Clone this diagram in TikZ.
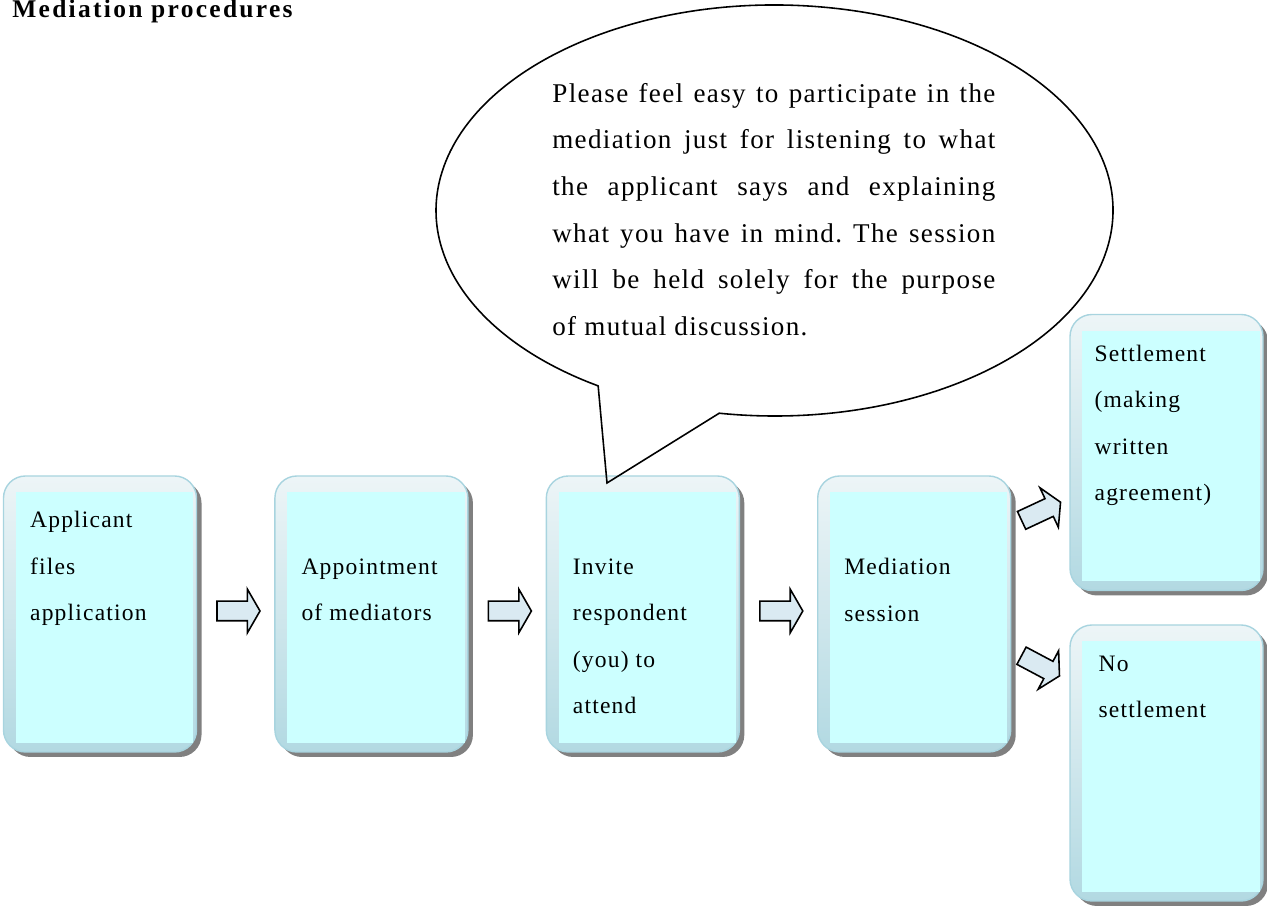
\documentclass[tikz,border=0pt]{standalone}
\usepackage{fontspec}
\setmainfont{Liberation Serif}
\newfontfamily\stepfont[LetterSpace=5]{Liberation Serif}
\newfontfamily\titlefont[LetterSpace=9]{Liberation Serif}
\usetikzlibrary{positioning,shapes.arrows,shadows}
\definecolor{boxline}{RGB}{168,212,223}
\definecolor{boxtop}{RGB}{237,245,247}
\definecolor{boxbottom}{RGB}{178,217,226}
\definecolor{boxinner}{RGB}{204,255,255}
\definecolor{boxshadow}{RGB}{128,128,128}
\definecolor{arrowfill}{RGB}{218,234,242}

\begin{document}
\frenchspacing
\begin{tikzpicture}[
  node distance=1.54cm,
  stepbox/.style={draw=boxline,line width=0.8pt,rounded corners=0.44cm,top color=boxtop,bottom color=boxbottom,
    minimum width=3.86cm,minimum height=5.52cm,
    drop shadow={shadow xshift=0.1cm,shadow yshift=-0.1cm,fill=boxshadow,opacity=1}},
  steptext/.style={anchor=north west,align=left,inner sep=0pt,font=\stepfont\fontsize{13.4pt}{26.4pt}\selectfont},
  steparrow/.style={single arrow,draw=black,line width=0.9pt,fill=arrowfill,minimum height=0.86cm,
    inner ysep=0.18cm,inner xsep=0pt,single arrow head extend=0.24cm,single arrow tip angle=120},
  bubbletext/.style={anchor=north west,align=justify,text width=8.86cm,inner sep=0pt,
    font=\stepfont\fontsize{15.4pt}{26.5pt}\selectfont}
]
\useasboundingbox (0,0) rectangle (25.34,18.22);

\node[anchor=base west,inner sep=0pt,font=\titlefont\bfseries\fontsize{14.5pt}{17pt}\selectfont] (title) at (0.24,17.86) {Mediation procedures};

\node[stepbox] (app) at (2.0,5.94) {};
\node[stepbox,right=of app] (mediators) {};
\node[stepbox,right=of mediators] (invite) {};
\node[stepbox,right=of invite] (session) {};
\node[stepbox] (settle) at (23.33,9.17) {};
\node[stepbox] (nosettle) at (23.33,2.96) {};

\foreach \b in {app,mediators,invite,session,settle,nosettle}
  \fill[boxinner] ([shift={(0.26,-0.34)}]\b.north west) rectangle ([shift={(-0.08,0.2)}]\b.south east);

\node[steptext] (apptext) at ([shift={(0.54,-0.72)}]app.north west) {Applicant\\files\\application};
\node[steptext] (mediatorstext) at ([shift={(0.54,-1.66)}]mediators.north west) {Appointment\\of mediators};
\node[steptext] (invitetext) at ([shift={(0.54,-1.66)}]invite.north west) {Invite\\respondent\\(you) to\\attend};
\node[steptext] (sessiontext) at ([shift={(0.54,-1.66)}]session.north west) {Mediation\\session};
\node[steptext] (settletext) at ([shift={(0.5,-0.62)}]settle.north west) {Settlement\\(making\\written\\agreement)};
\node[steptext] (nosettletext) at ([shift={(0.58,-0.62)}]nosettle.north west) {No\\settlement};

\node[steparrow,right=0.38cm of app,yshift=0.06cm] (a1) {};
\node[steparrow,right=0.38cm of mediators,yshift=0.06cm] (a2) {};
\node[steparrow,right=0.38cm of invite,yshift=0.06cm] (a3) {};
\node[steparrow,rotate=25] (a4) at (20.77,7.97) {};
\node[steparrow,rotate=-28] (a5) at (20.76,4.93) {};

\coordinate (talk) at (15.49,14.01);
\coordinate (tip) at (12.14,8.56);
\draw[line width=0.9pt] ([shift={(-99.4:6.77 and 4.11)}]talk) arc[start angle=-99.4,end angle=238.6,x radius=6.77cm,y radius=4.11cm] -- (tip) -- cycle;

\node[bubbletext] (advice) at (11.04,16.56) {Please feel easy to participate in the\linebreak
mediation just for listening to what\linebreak
the applicant says and explaining\linebreak
what you have in mind. The session\linebreak
will be held solely for the purpose\linebreak
of mutual discussion.};
\end{tikzpicture}
\end{document}
